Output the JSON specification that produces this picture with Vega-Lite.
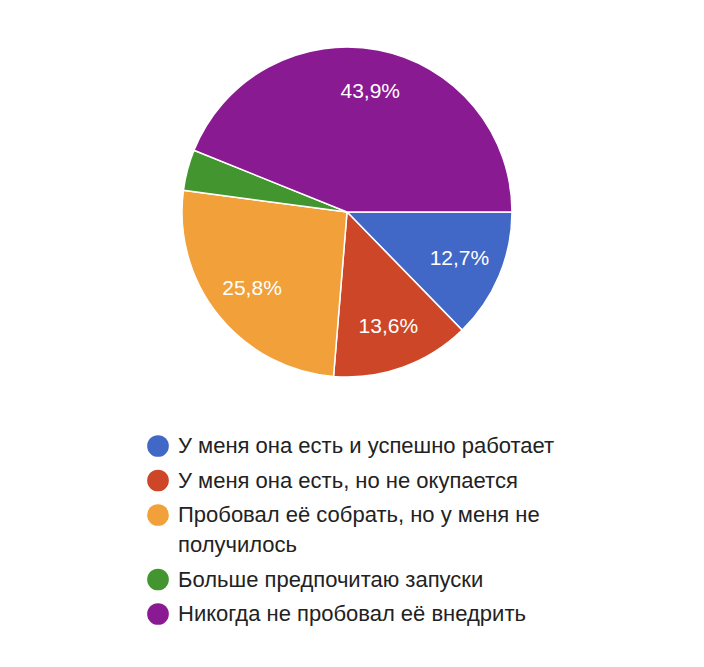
{
  "$schema": "https://vega.github.io/schema/vega-lite/v6.json",
  "width": 330,
  "height": 330,
  "autosize": {"type": "none"},
  "padding": {"left": 182, "top": 47, "right": 192, "bottom": 290},
  "background": "white",
  "data": {
    "values": [
      {"order": 1, "answer": "У меня она есть и успешно работает", "value": 12.7, "label": "12,7%"},
      {"order": 2, "answer": "У меня она есть, но не окупается", "value": 13.6, "label": "13,6%"},
      {"order": 3, "answer": "Пробовал её собрать, но у меня не|получилось", "value": 25.8, "label": "25,8%"},
      {"order": 4, "answer": "Больше предпочитаю запуски", "value": 4.0, "label": ""},
      {"order": 5, "answer": "Никогда не пробовал её внедрить", "value": 43.9, "label": "43,9%"}
    ]
  },
  "encoding": {
    "theta": {"field": "value", "type": "quantitative", "stack": true, "scale": {"range": [1.5708, 7.854]}},
    "order": {"field": "order", "type": "quantitative"},
    "color": {
      "field": "answer",
      "type": "nominal",
      "sort": {"field": "order"},
      "scale": {
        "domain": ["У меня она есть и успешно работает", "У меня она есть, но не окупается", "Пробовал её собрать, но у меня не|получилось", "Больше предпочитаю запуски", "Никогда не пробовал её внедрить"],
        "range": ["#4168c6", "#cc4627", "#f1a03a", "#43962f", "#8a1a91"]
      },
      "legend": {
        "title": null,
        "orient": "none",
        "legendX": -35,
        "legendY": 388,
        "direction": "vertical",
        "symbolType": "circle",
        "symbolSize": 470,
        "symbolStrokeWidth": 0,
        "labelFont": "Liberation Sans",
        "labelFontSize": 22,
        "labelColor": "#222222",
        "labelOffset": 9,
        "labelLimit": 600,
        "rowPadding": 12.5,
        "labelExpr": "split(datum.label, '|')"
      }
    }
  },
  "layer": [
    {
      "mark": {"type": "arc", "outerRadius": 165, "stroke": "white", "strokeWidth": 1.5}
    },
    {
      "mark": {"type": "text", "radius": 122, "fontSize": 21, "font": "Liberation Sans", "fill": "white"},
      "encoding": {
        "text": {"field": "label"},
        "color": {"value": "white"}
      }
    }
  ],
  "config": {"view": {"stroke": null}, "style": {"guide-label": {"lineHeight": 30}}}
}
